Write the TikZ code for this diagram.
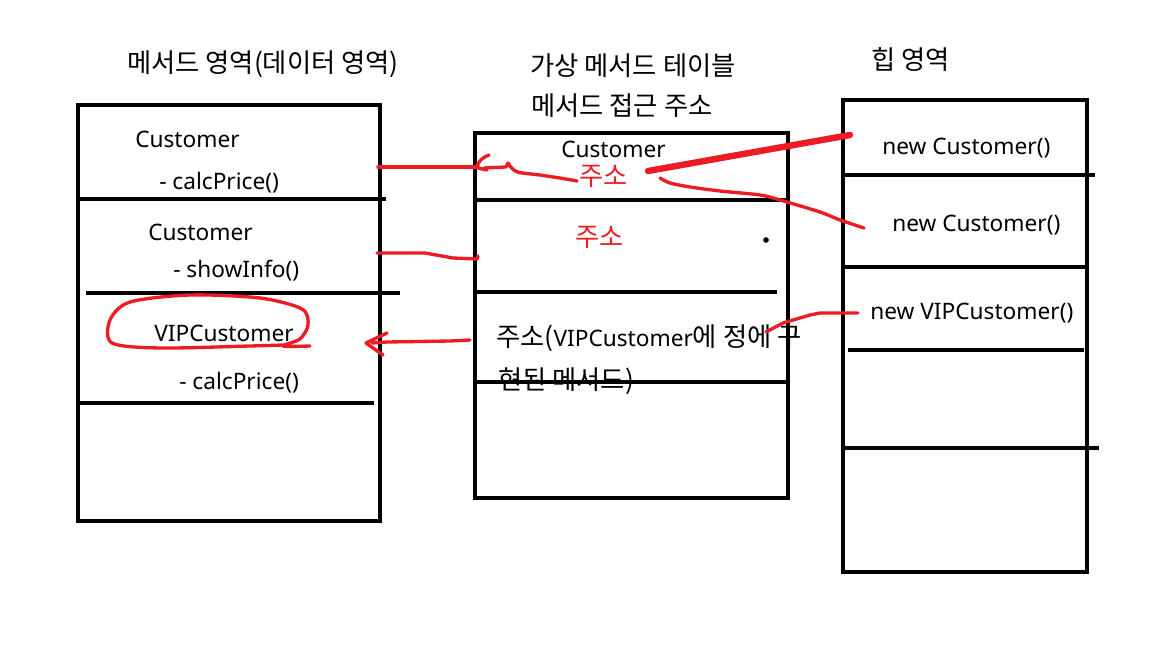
\documentclass[tikz,border=0pt]{standalone}
\usepackage{fontspec}
\setmainfont{Noto Sans}
\newfontfamily\kr{Noto Sans CJK KR}[Scale=1.16]
\definecolor{paintred}{RGB}{237,28,36}
\tikzset{
  pen/.style={line width=3.3pt, line cap=rect},
  redpen/.style={paintred, line width=2.5pt, line cap=round, line join=round},
  lbl/.style={inner sep=0pt, anchor=base west, font=\fontsize{17}{19}\selectfont},
  rlbl/.style={lbl, text=paintred},
}
\begin{document}
\begin{tikzpicture}[x=0.75pt,y=-0.75pt]
\useasboundingbox (0,0) rectangle (1152,648);
\fill[white] (0,0) rectangle (1152,648);

% titles
\node[lbl] (t1) at (127,73) {\kr 메서드 영역(데이터 영역)};
\node[lbl] (t2) at (530,76) {\kr 가상 메서드 테이블};
\node[lbl] (t3) at (531,116) {\kr 메서드 접근 주소};
\node[lbl] (t4) at (871,70) {\kr 힙 영역};

% left box texts
\node[lbl] (l1) at (135,148) {Customer};
\node[lbl] (l2) at (159,190) {- calcPrice()};
\node[lbl] (l3) at (148,241) {Customer};
\node[lbl] (l4) at (173,278) {- showInfo()};
\node[lbl] (l5) at (154,341) {VIPCustomer};
\node[lbl] (l6) at (179,389) {- calcPrice()};

% middle box texts
\node[lbl] (m1) at (561,158) {Customer};
\node[rlbl] (m2) at (579,186) {\kr 주소};
\node[rlbl] (m3) at (575,247) {\kr 주소};
\node[lbl] (m4) at (496,347) {\kr 주소({\fontspec{Noto Sans}\fontsize{17}{19}\selectfont VIPCustomer}에 정에 구};
\node[lbl] (m5) at (498,389) {\kr 현된 메서드)};

% right box texts
\node[lbl] (h1) at (882,155) {new Customer()};
\node[lbl] (h2) at (892,232) {new Customer()};
\node[lbl] (h3) at (870,320) {new VIPCustomer()};

% left box
\draw[pen] (78,105) rectangle (380,521);
\draw[pen] (78,199) -- (384,199);
\draw[pen] (88,293) -- (398,293);
\draw[pen] (78,403) -- (372,403);

% middle box
\draw[pen] (475,133) rectangle (788,498);
\draw[pen] (475,200) -- (788,200);
\draw[pen] (479,292) -- (775,292);
\draw[pen] (475,382) -- (788,382);
\fill (766,240) circle (2.8);

% right box
\draw[pen] (843,100) rectangle (1087,572);
\draw[pen] (843,175) -- (1093,175);
\draw[pen] (843,267) -- (1087,267);
\draw[pen] (850,350) -- (1082,350);
\draw[pen] (843,448) -- (1097,448);

% red connectors
\draw[redpen] (378,167) -- (477,167);
\draw[redpen] (489,155) .. controls (481,158) and (476,164) .. (478,168) -- (487,170);
\draw[redpen] (484,168) -- (506,167) -- (508,163) .. controls (511,168) and (514,172) .. (522,173)
  -- (540,175) -- (560,178) -- (577,181);
\draw[paintred, line width=4.8pt, line cap=round] (648,171) -- (850,135);
\draw[redpen] plot[smooth] coordinates {(660,178) (670,183) (690,187) (720,191) (760,195) (780,200) (820,212) (840,220) (864,228)};
\draw[redpen] (377,253) -- (425,253) -- (453,258) -- (477,259) -- (478,256);
\draw[redpen] (470,340) -- (450,341) -- (387,342) -- (372,343);
\draw[redpen] (387,333) -- (366,343) -- (383,355);
\draw[redpen] (766,332) -- (783,323) -- (810,315) -- (820,313) -- (858,313);
\draw[redpen] plot[smooth] coordinates {(310,346) (283,346) (300,339) (308,325) (302,309) (260,298) (190,295) (130,302) (110,320) (112,343) (160,348) (250,346) (283,345)};
\end{tikzpicture}
\end{document}
